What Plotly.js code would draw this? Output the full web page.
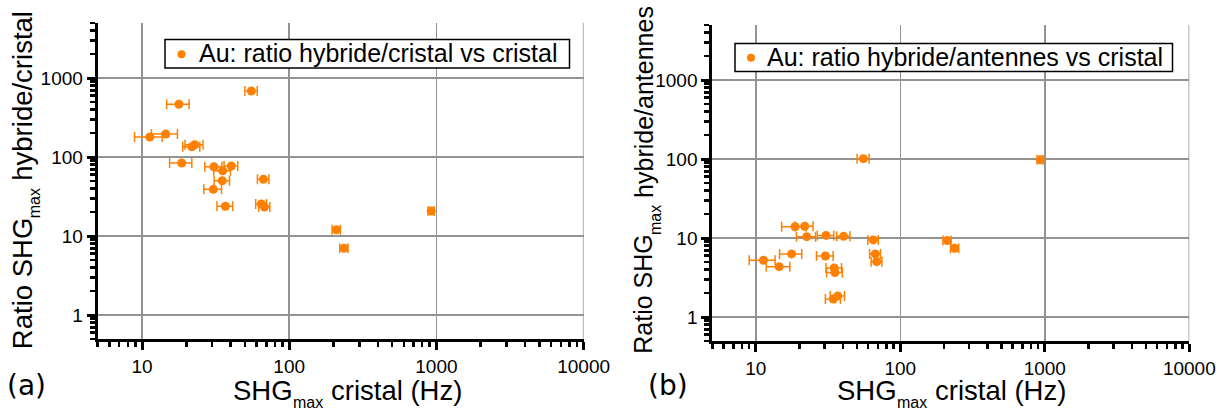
<!DOCTYPE html>
<html><head><meta charset="utf-8">
<script src="https://cdn.plot.ly/plotly-3.0.1.min.js"></script>
<style>html,body{margin:0;padding:0;background:#fff;}#chart{width:1229px;height:410px;}</style>
</head><body><div id="chart"></div>
<script>
// ---------------- data ----------------
// (a) ratio hybride/cristal vs cristal
const xA  = [55.3, 17.8, 11.3, 14.5, 21.8, 22.8, 18.6, 30.8, 35.3, 40.4, 35.1, 30.5, 66.8, 36.8, 64.7, 67.9, 209, 235.6, 922];
const yA  = [684, 465, 179, 195, 135, 143, 84, 75.4, 67, 77, 50, 39, 52.2, 23.8, 25.4, 23.3, 12.0, 6.99, 20.7];
const exA = [5.3, 3.1, 2.4, 2.9, 2.9, 3.2, 3.2, 4.1, 4.6, 4.3, 4.2, 4.2, 6.0, 4.5, 5.5, 5.9, 13.5, 15.2, 44];
// (b) ratio hybride/antennes vs cristal
const xB  = [55.5, 18.7, 21.8, 22.5, 30.6, 40.5, 65.0, 17.7, 11.3, 14.5, 30.3, 34.9, 35.3, 67.1, 68.7, 36.9, 34.4, 211, 238, 929];
const yB  = [101, 13.9, 14.1, 10.4, 10.8, 10.5, 9.46, 6.29, 5.23, 4.34, 5.93, 4.18, 3.65, 6.29, 5.02, 1.85, 1.69, 9.27, 7.42, 97.7];
const exB = [5.3, 3.6, 3.1, 3.4, 4.0, 4.3, 5.4, 3.1, 2.3, 2.7, 4.0, 4.3, 4.4, 5.8, 5.9, 4.2, 4.1, 13.6, 15.4, 44];

const xTickVals = [10, 100, 1000, 10000];
const xTickText = ['10', '100', '1000', '10000'];
const yTickVals = [1, 10, 100, 1000];
const yTickText = ['1', '10', '100', '1000'];
const legendA = 'Au: ratio hybride/cristal vs cristal';
const legendB = 'Au: ratio hybride/antennes vs cristal';
const xTitle  = ['SHG', 'max', 'cristal (Hz)'];
const yTitleA = ['Ratio SHG', 'max', 'hybride/cristal'];
const yTitleB = ['Ratio SHG', 'max', 'hybride/antennes'];
const panelLabels = ['(a)', '(b)'];

// ---------------- layout helpers ----------------
const W = 1229, H = 410;
const FONT = 'Liberation Sans, Arial, sans-serif';
const ORANGE = '#FF8000';
const GRID = '#939393';
const px = v => v / W;
const py = v => 1 - v / H;

const panelA = {x0: 97.7, x1: 583.6, top: 22.8, bot: 338.8};
const panelB = {x0: 712.3, x1: 1189.3, top: 24.8, bot: 340.8};

function minorVals(lo, hi) {
  const out = [];
  for (let e = -1; e <= 4; e++) {
    for (let m = 2; m <= 9; m++) {
      const v = m * Math.pow(10, e);
      if (v >= lo * 0.999 && v <= hi * 1.001) out.push(v);
    }
  }
  return out;
}

function xaxis(p, anchor) {
  return {
    type: 'log', range: [Math.log10(5), 4], domain: [px(p.x0), px(p.x1)], anchor: anchor,
    showline: true, linewidth: 3, linecolor: '#000',
    ticks: 'outside', ticklen: 8, tickwidth: 3, tickcolor: '#000',
    tickmode: 'array', tickvals: xTickVals, ticktext: xTickText,
    tickfont: {family: FONT, size: 19, color: '#000'},
    showgrid: true, gridcolor: GRID, gridwidth: 1.5, zeroline: false,
    minor: {tickmode: 'array', tickvals: minorVals(5, 10000), ticks: 'outside', ticklen: 5, tickwidth: 2.5, tickcolor: '#000', showgrid: false},
    fixedrange: true
  };
}
function yaxis(p, anchor) {
  return {
    type: 'log', range: [Math.log10(0.5), Math.log10(5000)], domain: [py(p.bot), py(p.top)], anchor: anchor,
    showline: true, linewidth: 3, linecolor: '#000',
    ticks: 'outside', ticklen: 8, tickwidth: 3, tickcolor: '#000',
    tickmode: 'array', tickvals: yTickVals, ticktext: yTickText,
    tickfont: {family: FONT, size: 19, color: '#000'},
    showgrid: true, gridcolor: GRID, gridwidth: 1.5, zeroline: false,
    minor: {tickmode: 'array', tickvals: minorVals(0.5, 5000), ticks: 'outside', ticklen: 5, tickwidth: 2.5, tickcolor: '#000', showgrid: false},
    fixedrange: true
  };
}

// text measurement for composed titles (main text + subscript)
const ctx = document.createElement('canvas').getContext('2d');
function tw(t, size) { ctx.font = size + 'px "Liberation Sans"'; return ctx.measureText(t).width; }

function titlePieces(pieces, size, subSize, center, base, subBase, rotated) {
  const w1 = tw(pieces[0], size), ws = tw(pieces[1], subSize), gap = tw(' ', size), w2 = tw(pieces[2], size);
  const total = w1 + ws + gap + w2;
  const c = [w1 / 2, w1 + ws / 2, w1 + ws + gap + w2 / 2].map(v => v - total / 2);
  const perp = [base - 0.35 * size, subBase - 0.35 * subSize, base - 0.35 * size];
  const sizes = [size, subSize, size];
  return pieces.map((t, i) => {
    const along = rotated ? center - c[i] : center + c[i];
    return {
      xref: 'paper', yref: 'paper', showarrow: false, text: t,
      x: rotated ? px(perp[i]) : px(along),
      y: rotated ? py(along) : py(perp[i]),
      xanchor: 'center', yanchor: 'middle',
      textangle: rotated ? -90 : 0,
      font: {family: FONT, size: sizes[i], color: '#000'}
    };
  });
}

function errX(arr) {
  return {type: 'data', array: arr, visible: true, color: ORANGE, thickness: 1.5, width: 5};
}

const traces = [
  {type: 'scatter', mode: 'markers', x: xA, y: yA, xaxis: 'x', yaxis: 'y', name: legendA,
   marker: {color: ORANGE, size: 9}, error_x: errX(exA), showlegend: false},
  {type: 'scatter', mode: 'markers', x: xB, y: yB, xaxis: 'x2', yaxis: 'y2', name: legendB,
   marker: {color: ORANGE, size: 9}, error_x: errX(exB), showlegend: false}
];

// legend boxes drawn as shapes + text (compact, like the reference)
function legendParts(text, box, dot, textX, textMid) {
  return {
    shapes: [
      {type: 'rect', xref: 'paper', yref: 'paper', x0: px(box[0]), x1: px(box[1]), y0: py(box[3]), y1: py(box[2]),
       fillcolor: '#fff', line: {color: '#000', width: 1.5}, layer: 'above'},
      {type: 'circle', xref: 'paper', yref: 'paper', x0: px(dot[0] - 4), x1: px(dot[0] + 4), y0: py(dot[1] + 4), y1: py(dot[1] - 4),
       fillcolor: ORANGE, line: {width: 0}, layer: 'above'}
    ],
    ann: {xref: 'paper', yref: 'paper', showarrow: false, text: text, x: px(textX), y: py(textMid),
          xanchor: 'left', yanchor: 'middle', font: {family: FONT, size: 25, color: '#000'}}
  };
}
const legA = legendParts(legendA, [165, 569.5, 39.5, 68], [181.5, 54.3], 196.5, 53.2);
const legB = legendParts(legendB, [735, 1172.5, 43.5, 71.5], [751, 57.7], 765, 57.3);

const annotations = [].concat(
  titlePieces(xTitle, 27.5, 16, 347.5, 400, 408, false),
  titlePieces(xTitle, 27.5, 16, 952, 400, 408, false),
  titlePieces(yTitleA, 27.5, 16, 180, 32, 41, true),
  titlePieces(yTitleB, 25, 16, 180, 652, 661, true),
  [
    {xref: 'paper', yref: 'paper', showarrow: false, text: panelLabels[0], x: px(26.5), y: py(385.5), xanchor: 'center', yanchor: 'middle', font: {family: 'DejaVu Sans', size: 28, color: '#000'}},
    {xref: 'paper', yref: 'paper', showarrow: false, text: panelLabels[1], x: px(668), y: py(385.5), xanchor: 'center', yanchor: 'middle', font: {family: 'DejaVu Sans', size: 28, color: '#000'}},
    legA.ann, legB.ann
  ]
);

// grid line at the right edge (10000), which Plotly clips at the plot edge
const shapes = [
  {type: 'line', xref: 'x', yref: 'paper', x0: 10000, x1: 10000, y0: py(panelA.bot), y1: py(panelA.top), line: {color: GRID, width: 1.5}, layer: 'below'},
  {type: 'line', xref: 'x2', yref: 'paper', x0: 10000, x1: 10000, y0: py(panelB.bot), y1: py(panelB.top), line: {color: GRID, width: 1.5}, layer: 'below'}
].concat(legA.shapes, legB.shapes);

const layout = {
  width: W, height: H, margin: {l: 0, r: 0, t: 0, b: 0},
  paper_bgcolor: '#fff', plot_bgcolor: '#fff',
  font: {family: FONT, color: '#000'},
  showlegend: false,
  xaxis: xaxis(panelA, 'y'), yaxis: yaxis(panelA, 'x'),
  xaxis2: xaxis(panelB, 'y2'), yaxis2: yaxis(panelB, 'x2'),
  annotations: annotations, shapes: shapes
};

Plotly.newPlot('chart', traces, layout, {displayModeBar: false, staticPlot: true});
</script></body></html>
